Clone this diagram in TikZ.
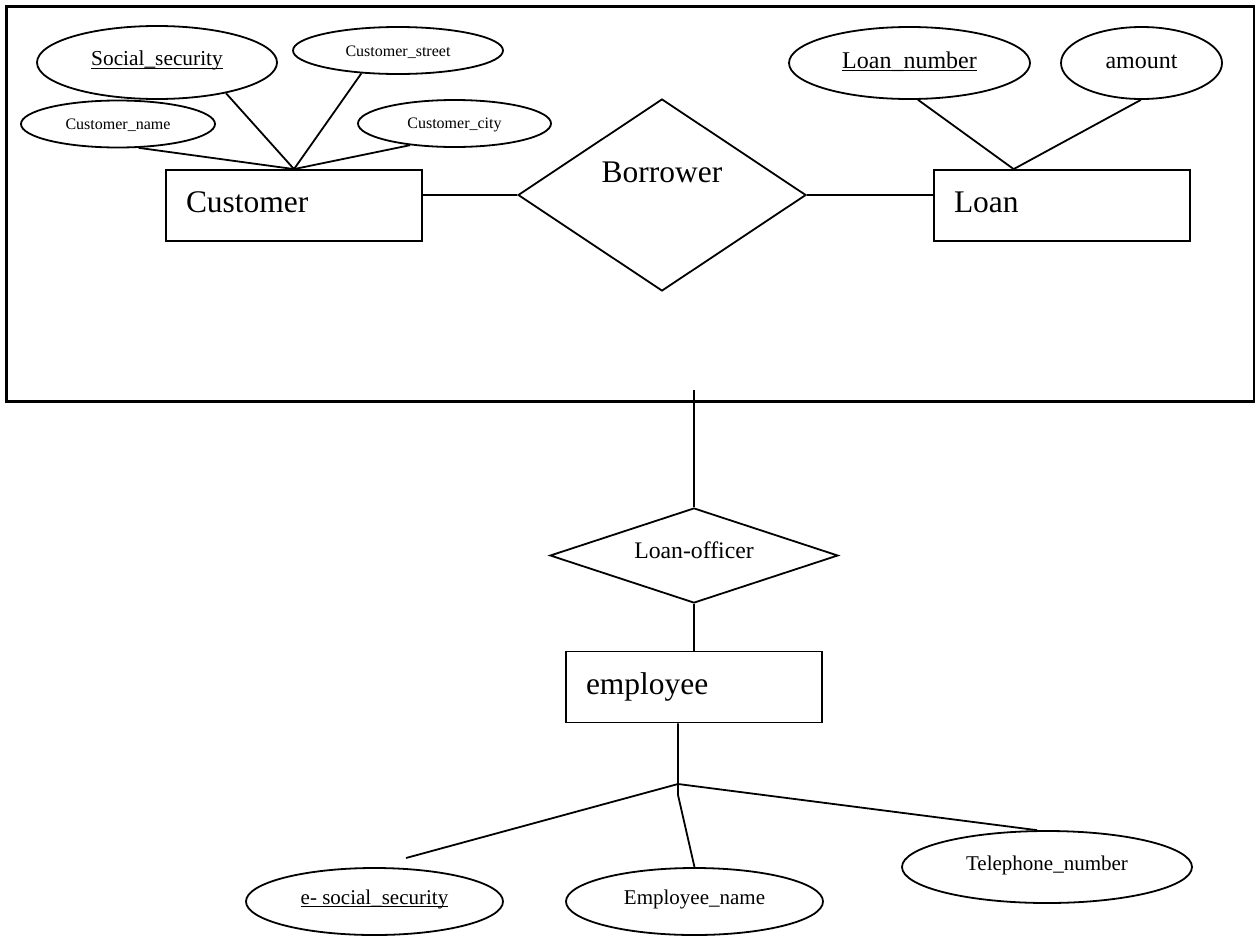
\documentclass[tikz,border=0pt]{standalone}
\usepackage{fontspec}
\setmainfont{Liberation Serif}
\usetikzlibrary{shapes.geometric,calc}
\newcommand{\keyattr}[1]{\underline{\smash{#1}}}
\tikzset{
  attr/.style={ellipse, draw, line width=1.35pt, inner sep=0pt, text depth=0pt},
  ent/.style={rectangle, draw, line width=1.35pt, inner xsep=15pt, inner ysep=0pt, text width=162pt, align=left,
    minimum height=53.25pt, text height=16.5pt, text depth=5.9pt, font=\fontsize{23.6}{28}\selectfont},
  rel/.style={diamond, draw, line width=1.35pt, inner sep=0pt},
  conn/.style={line width=1.35pt},
  bigtxt/.style={font=\fontsize{23.6}{28}\selectfont},
  midtxt/.style={font=\fontsize{17.8}{21}\selectfont},
}
\begin{document}
\begin{tikzpicture}[x=0.75pt,y=-0.75pt]
\useasboundingbox (0,0) rectangle (1255,939);
% aggregation frame
\node[draw, line width=2pt, minimum width=936pt, minimum height=296.25pt, inner sep=0pt, anchor=north west] (frame) at (5,5) {};
% entities
\node[ent] (cust) at (294,205.5) {Customer};
\node[ent] (loan) at (1062,205.5) {Loan};
\node[ent] (emp) at (694,687) {employee};
% relationships
\node[rel, minimum width=216pt, minimum height=144pt] (borrower) at (662,195) {};
\node[bigtxt, anchor=base, inner sep=0pt] (borrowerlbl) at ([yshift=9.75pt]borrower.center) {Borrower};
\node[rel, minimum width=216pt, minimum height=71.25pt] (lo) at (694,555.5) {};
\node[midtxt, anchor=base, inner sep=0pt] (lolbl) at ([yshift=-2.6pt]lo.center) {Loan-officer};
% attributes
\node[attr, text height=5.2pt, minimum width=180pt, minimum height=54.75pt, font=\fontsize{16}{19}\selectfont] (ss) at (157,62.5) {\keyattr{Social\_security}};
\node[attr, text height=9pt, minimum width=157.5pt, minimum height=35.25pt, font=\fontsize{12}{14}\selectfont] (street) at (398,50.5) {Customer\_street};
\node[attr, text height=7.5pt, minimum width=145.5pt, minimum height=35.25pt, font=\fontsize{12}{14}\selectfont] (cname) at (118,124) {Customer\_name};
\node[attr, text height=6.8pt, minimum width=144.75pt, minimum height=35.25pt, font=\fontsize{12}{14}\selectfont] (ccity) at (454.5,123.5) {Customer\_city};
\node[attr, text height=7.5pt, minimum width=180.75pt, minimum height=54pt, font=\fontsize{18}{21}\selectfont] (lnum) at (909.5,63) {\keyattr{Loan\_number}};
\node[attr, text height=7.5pt, minimum width=120.75pt, minimum height=54pt, font=\fontsize{18}{21}\selectfont] (amount) at (1141.5,63) {amount};
\node[attr, text height=4.5pt, minimum width=192.75pt, minimum height=50.25pt, font=\fontsize{15.75}{19}\selectfont] (essn) at (374.5,901.5) {\keyattr{e- social\_security}};
\node[attr, text height=4.5pt, minimum width=192.75pt, minimum height=50.25pt, font=\fontsize{15.75}{19}\selectfont] (ename) at (694.5,901.5) {Employee\_name};
\node[attr, text height=4.5pt, minimum width=217.5pt, minimum height=54pt, font=\fontsize{15.75}{19}\selectfont] (tel) at (1047,867) {Telephone\_number};
% connectors
\draw[conn] (cust.north) -- (ss.-24);
\draw[conn] (cust.north) -- (street.-148);
\draw[conn] (cust.north) -- (cname.-49);
\draw[conn] (cust.north) -- (ccity.-154);
\draw[conn] (cust.east |- borrower.west) -- (borrower.west);
\draw[conn] (borrower.east) -- (loan.west |- borrower.east);
\coordinate (lj) at ($(loan.north west)!0.3125!(loan.north east)$);
\draw[conn] (lj) -- (lnum.-77);
\draw[conn] (lj) -- (amount.-91);
\coordinate (aggtop) at ($(frame.south -| lo.north)+(0,-13)$);
\draw[conn] (aggtop) -- (lo.north);
\draw[conn] (lo.south) -- (emp.north);
\coordinate (ej) at (678,784);
\coordinate (ek) at (678,795);
\coordinate (esend) at (406,858);
\draw[conn] (emp.south -| ej) -- (ek) -- (ename.north);
\draw[conn] (ej) -- (esend);
\draw[conn] (ej) -- (tel.105);
\end{tikzpicture}
\end{document}
